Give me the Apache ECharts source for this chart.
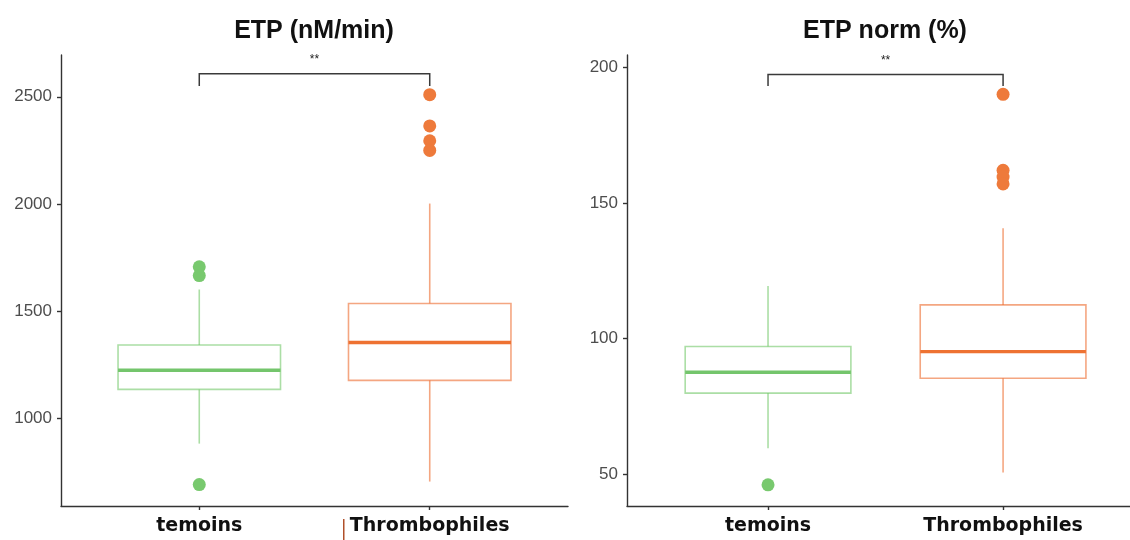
<!DOCTYPE html>
<html>
<head>
<meta charset="utf-8">
<script src="https://cdn.jsdelivr.net/npm/echarts@6/dist/echarts.min.js"></script>
<style>
  html, body { margin: 0; padding: 0; background: #fff; }
  #chart { width: 1130px; height: 540px; }
</style>
</head>
<body>
<div id="chart"></div>
<script>
// Groups compared in both panels
const groups = ['temoins', 'Thrombophiles'];

// ETP (nM/min): [lower whisker, Q1, median, Q3, upper whisker] per group
const etpTemoins = [882, 1135, 1224, 1342, 1601];
const etpThromb = [705, 1177, 1354, 1536, 2002];
const etpOutTemoins = [1707, 1666, 691];
const etpOutThromb = [2510, 2364, 2295, 2250];
const etpTicks = [1000, 1500, 2000, 2500];
// significance bracket: [bar level, leg end]
const etpBracket = [2607, 2550];

// ETP norm (%)
const normTemoins = [59.6, 79.9, 87.6, 97.1, 119.4];
const normThromb = [50.6, 85.4, 95.2, 112.4, 140.7];
const normOutTemoins = [46.1];
const normOutThromb = [190, 162, 159.5, 157];
const normTicks = [50, 100, 150, 200];
const normBracket = [197.3, 193.1];

const signifLabel = '**';

const boxLine = ['rgba(120,201,110,0.62)', 'rgba(238,112,52,0.62)'];
const medianColor = ['#74c56c', '#ee7232'];
const pointColor = ['#78c96e', '#ee7a3b'];

function boxSeries(gridIndex, statsList) {
  return {
    type: 'custom',
    xAxisIndex: gridIndex,
    yAxisIndex: gridIndex,
    data: statsList.map((s, i) => [i + 1].concat(s)),
    renderItem: function (params, api) {
      const x = api.value(0);
      const i = params.dataIndex;
      const half = api.size([0.705, 0])[0] / 2;
      const pLow = api.coord([x, api.value(1)]);
      const pQ1 = api.coord([x, api.value(2)]);
      const pMed = api.coord([x, api.value(3)]);
      const pQ3 = api.coord([x, api.value(4)]);
      const pHigh = api.coord([x, api.value(5)]);
      const lineStyle = { stroke: boxLine[i], lineWidth: 1.6, fill: null };
      return {
        type: 'group',
        children: [
          { type: 'line', shape: { x1: pQ3[0], y1: pQ3[1], x2: pHigh[0], y2: pHigh[1] }, style: lineStyle },
          { type: 'line', shape: { x1: pQ1[0], y1: pQ1[1], x2: pLow[0], y2: pLow[1] }, style: lineStyle },
          { type: 'rect', shape: { x: pQ3[0] - half, y: pQ3[1], width: half * 2, height: pQ1[1] - pQ3[1] }, style: lineStyle },
          { type: 'line', shape: { x1: pMed[0] - half, y1: pMed[1], x2: pMed[0] + half, y2: pMed[1] },
            style: { stroke: medianColor[i], lineWidth: 3.4 } }
        ]
      };
    },
    z: 2
  };
}

function outlierSeries(gridIndex, outLists) {
  const data = [];
  outLists.forEach((arr, i) => arr.forEach(v => data.push({ value: [i + 1, v], itemStyle: { color: pointColor[i], opacity: 1 } })));
  return {
    type: 'scatter',
    xAxisIndex: gridIndex,
    yAxisIndex: gridIndex,
    symbol: 'circle',
    symbolSize: 13,
    itemStyle: { opacity: 1 },
    data: data,
    z: 3
  };
}

function bracketSeries(gridIndex, bracket) {
  return {
    type: 'custom',
    xAxisIndex: gridIndex,
    yAxisIndex: gridIndex,
    data: [[1, 2, bracket[0], bracket[1]]],
    renderItem: function (params, api) {
      const a = api.coord([api.value(0), api.value(3)]);
      const b = api.coord([api.value(0), api.value(2)]);
      const c = api.coord([api.value(1), api.value(2)]);
      const d = api.coord([api.value(1), api.value(3)]);
      return {
        type: 'group',
        children: [
          { type: 'polyline', shape: { points: [a, b, c, d] },
            style: { stroke: '#3a3a3a', lineWidth: 1.5, fill: null } },
          { type: 'text', x: (b[0] + c[0]) / 2, y: b[1] - 8,
            style: { text: signifLabel, fill: '#222', font: '12px "Liberation Sans", Arial', align: 'center', verticalAlign: 'bottom' } }
        ]
      };
    },
    z: 4
  };
}

function xAxisFor(gridIndex, max) {
  return {
    type: 'value', gridIndex: gridIndex, min: 0.4, max: max,
    axisLine: { show: true, onZero: false, lineStyle: { color: '#333', width: 1.4 } },
    axisTick: { show: true, customValues: [1, 2], length: 4, lineStyle: { color: '#333', width: 1.4 } },
    axisLabel: {
      customValues: [1, 2], formatter: v => groups[Math.round(v) - 1],
      margin: 11, color: '#111', fontWeight: 'bold', fontSize: 19, fontFamily: 'DejaVu Sans'
    },
    splitLine: { show: false }
  };
}

function yAxisFor(gridIndex, min, max, ticks) {
  return {
    type: 'value', gridIndex: gridIndex, min: min, max: max,
    axisLine: { show: true, lineStyle: { color: '#333', width: 1.4 } },
    axisTick: { show: true, customValues: ticks, length: 4, lineStyle: { color: '#333', width: 1.4 } },
    axisLabel: { customValues: ticks, formatter: v => String(v), margin: 9, color: '#4d4d4d', fontSize: 17, fontFamily: 'Liberation Sans' },
    splitLine: { show: false }
  };
}

const chart = echarts.init(document.getElementById('chart'), null, { renderer: 'canvas' });
chart.setOption({
  backgroundColor: '#ffffff',
  animation: false,
  grid: [
    { left: 61, top: 55, width: 507, height: 451 },
    { left: 627, top: 55, right: 0, height: 451 }
  ],
  // right panel is cut at the page edge, so its x range stops short of 2.6
  xAxis: [xAxisFor(0, 2.6), xAxisFor(1, 2.54)],
  yAxis: [yAxisFor(0, 591, 2695, etpTicks), yAxisFor(1, 38.3, 204.5, normTicks)],
  graphic: [
    { type: 'text', x: 314, y: 31, style: { text: 'ETP (nM/min)', font: 'bold 25px "Liberation Sans", Arial', fill: '#111', align: 'center', verticalAlign: 'middle' } },
    { type: 'text', x: 885, y: 31, style: { text: 'ETP norm (%)', font: 'bold 25px "Liberation Sans", Arial', fill: '#111', align: 'center', verticalAlign: 'middle' } },
    { type: 'rect', shape: { x: 343, y: 519, width: 1.5, height: 21 }, style: { fill: '#b0502a' } }
  ],
  series: [
    boxSeries(0, [etpTemoins, etpThromb]),
    outlierSeries(0, [etpOutTemoins, etpOutThromb]),
    bracketSeries(0, etpBracket),
    boxSeries(1, [normTemoins, normThromb]),
    outlierSeries(1, [normOutTemoins, normOutThromb]),
    bracketSeries(1, normBracket)
  ]
});
</script>
</body>
</html>
